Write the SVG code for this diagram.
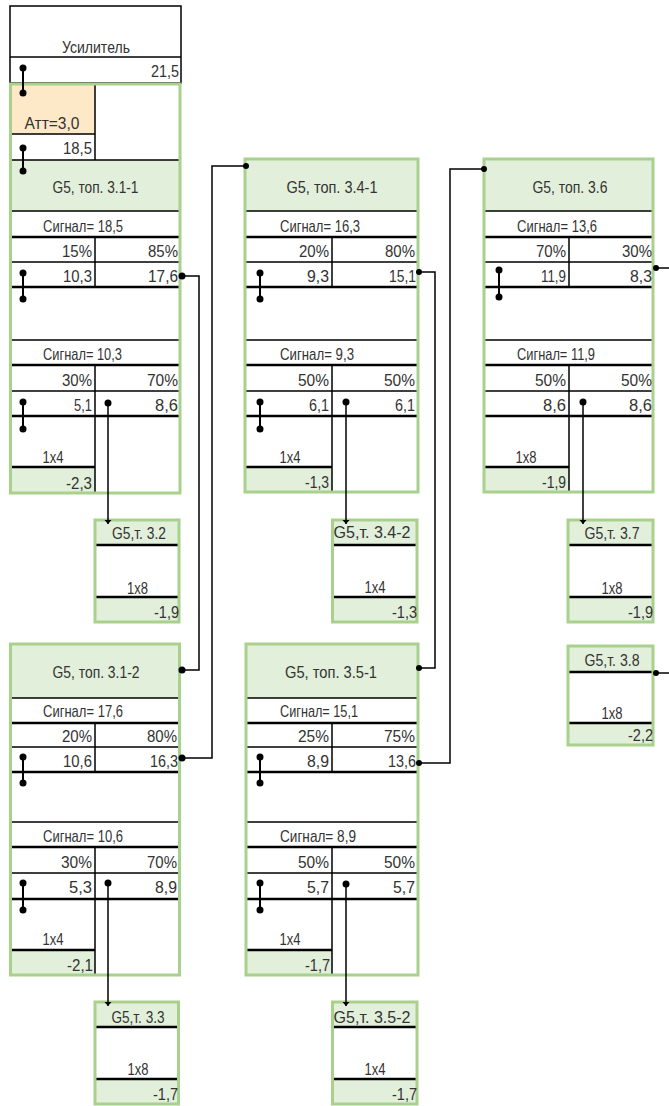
<svg xmlns="http://www.w3.org/2000/svg" width="669" height="1106" viewBox="0 0 669 1106">
<style>
.t{font-family:"Liberation Sans Narrow","Liberation Sans",Arial,sans-serif;font-size:17px;fill:#333}
.m{text-anchor:middle}.r{text-anchor:end}
.ln{stroke:#000;stroke-width:1.5;fill:none}
.lt{stroke:#000;stroke-width:2.5;fill:none}
.gb{fill:none;stroke:#a9d18e;stroke-width:3}
.wb{fill:#fff}
.hf{fill:#e2efda}
.of{fill:#fde9c8}
.cn{fill:none;stroke:#000;stroke-width:1.5}
.lk{fill:none;stroke:#000;stroke-width:2}
.dt{fill:#000}
</style>
<defs>
<marker id="ah" viewBox="0 -4 5 8" markerWidth="5" markerHeight="8" refX="4" refY="0" orient="auto" markerUnits="userSpaceOnUse"><path d="M0,-3.5 L4,0 L0,3.5 z" fill="#000"/></marker>
</defs>
<rect width="669" height="1106" fill="#fff"/>

<!-- Amplifier -->
<g id="amp">
<rect x="10" y="6" width="171" height="77" fill="#fff" stroke="#000" stroke-width="1.5"/>
<path class="ln" d="M10 57H181"/>
<text class="t m" x="96" y="53" textLength="68" lengthAdjust="spacingAndGlyphs">Усилитель</text>
<text class="t r" x="179" y="77" textLength="28" lengthAdjust="spacingAndGlyphs">21,5</text>
</g>

<!-- Block 3.1-1 -->
<g id="b311">
<rect class="wb" x="10.5" y="84" width="169.5" height="409"/>
<rect class="of" x="12" y="85" width="83" height="49"/>
<rect class="hf" x="12" y="160" width="167" height="51"/>
<rect class="hf" x="12" y="467" width="83" height="25"/>
<path class="ln" d="M12 134H95M95 85V160M12 160H179M12 211H179M12 262H179M95 237V287M12 340H179M12 391H179M95 365V492"/>
<path class="lt" d="M12 237H179M12 287H179M12 365H179M12 416H179M12 467H95"/>
<rect class="gb" x="10.5" y="84" width="169.5" height="409"/>
<text class="t m" x="52" y="129" textLength="55" lengthAdjust="spacingAndGlyphs">Атт=3,0</text>
<text class="t r" x="92" y="154" textLength="29" lengthAdjust="spacingAndGlyphs">18,5</text>
<text class="t m" x="95.5" y="193" textLength="86" lengthAdjust="spacingAndGlyphs">G5, топ. 3.1-1</text>
<text class="t" x="43" y="232" textLength="80" lengthAdjust="spacingAndGlyphs">Сигнал= 18,5</text>
<text class="t r" x="92" y="257" textLength="30" lengthAdjust="spacingAndGlyphs">15%</text>
<text class="t r" x="178" y="257" textLength="30" lengthAdjust="spacingAndGlyphs">85%</text>
<text class="t r" x="92" y="282" textLength="29" lengthAdjust="spacingAndGlyphs">10,3</text>
<text class="t r" x="178" y="282" textLength="30" lengthAdjust="spacingAndGlyphs">17,6</text>
<text class="t" x="43" y="360" textLength="79" lengthAdjust="spacingAndGlyphs">Сигнал= 10,3</text>
<text class="t r" x="92" y="386" textLength="30" lengthAdjust="spacingAndGlyphs">30%</text>
<text class="t r" x="178" y="386" textLength="31" lengthAdjust="spacingAndGlyphs">70%</text>
<text class="t r" x="92" y="411" textLength="18" lengthAdjust="spacingAndGlyphs">5,1</text>
<text class="t r" x="178" y="411" textLength="23" lengthAdjust="spacingAndGlyphs">8,6</text>
<text class="t m" x="53" y="463" textLength="21" lengthAdjust="spacingAndGlyphs">1x4</text>
<text class="t r" x="92" y="489" textLength="26" lengthAdjust="spacingAndGlyphs">-2,3</text>
</g>

<!-- Block 3.4-1 -->
<g id="b341">
<rect class="wb" x="245" y="159" width="173" height="333"/>
<rect class="hf" x="246" y="160" width="171" height="51"/>
<rect class="hf" x="246" y="467" width="86" height="24"/>
<path class="ln" d="M246 211H417M246 262H417M332 237V287M246 340H417M246 391H417M332 365V491"/>
<path class="lt" d="M246 237H417M246 287H417M246 365H417M246 416H417M246 467H332"/>
<rect class="gb" x="245" y="159" width="173" height="333"/>
<text class="t m" x="332" y="193" textLength="91" lengthAdjust="spacingAndGlyphs">G5, топ. 3.4-1</text>
<text class="t" x="280" y="232" textLength="80" lengthAdjust="spacingAndGlyphs">Сигнал= 16,3</text>
<text class="t r" x="329" y="257" textLength="30" lengthAdjust="spacingAndGlyphs">20%</text>
<text class="t r" x="415" y="257" textLength="30" lengthAdjust="spacingAndGlyphs">80%</text>
<text class="t r" x="329" y="282" textLength="22" lengthAdjust="spacingAndGlyphs">9,3</text>
<text class="t r" x="416" y="282" textLength="27" lengthAdjust="spacingAndGlyphs">15,1</text>
<text class="t" x="280" y="360" textLength="74" lengthAdjust="spacingAndGlyphs">Сигнал= 9,3</text>
<text class="t r" x="329" y="386" textLength="31" lengthAdjust="spacingAndGlyphs">50%</text>
<text class="t r" x="415" y="386" textLength="31" lengthAdjust="spacingAndGlyphs">50%</text>
<text class="t r" x="329" y="411" textLength="20" lengthAdjust="spacingAndGlyphs">6,1</text>
<text class="t r" x="415" y="411" textLength="20" lengthAdjust="spacingAndGlyphs">6,1</text>
<text class="t m" x="290" y="463" textLength="21" lengthAdjust="spacingAndGlyphs">1x4</text>
<text class="t r" x="329" y="488" textLength="24" lengthAdjust="spacingAndGlyphs">-1,3</text>
</g>

<!-- Block 3.6 -->
<g id="b36">
<rect class="wb" x="484" y="159" width="169" height="333"/>
<rect class="hf" x="485" y="160" width="167" height="51"/>
<rect class="hf" x="485" y="467" width="84" height="24"/>
<path class="ln" d="M485 211H652M485 262H652M569 237V287M485 340H652M485 391H652M569 365V491"/>
<path class="lt" d="M485 237H652M485 287H652M485 365H652M485 416H652M485 467H569"/>
<rect class="gb" x="484" y="159" width="169" height="333"/>
<text class="t m" x="570" y="193" textLength="75" lengthAdjust="spacingAndGlyphs">G5, топ. 3.6</text>
<text class="t" x="517" y="232" textLength="80" lengthAdjust="spacingAndGlyphs">Сигнал= 13,6</text>
<text class="t r" x="566" y="257" textLength="30" lengthAdjust="spacingAndGlyphs">70%</text>
<text class="t r" x="652" y="257" textLength="30" lengthAdjust="spacingAndGlyphs">30%</text>
<text class="t r" x="566" y="282" textLength="25" lengthAdjust="spacingAndGlyphs">11,9</text>
<text class="t r" x="652" y="282" textLength="22" lengthAdjust="spacingAndGlyphs">8,3</text>
<text class="t" x="517" y="360" textLength="78" lengthAdjust="spacingAndGlyphs">Сигнал= 11,9</text>
<text class="t r" x="566" y="386" textLength="31" lengthAdjust="spacingAndGlyphs">50%</text>
<text class="t r" x="652" y="386" textLength="31" lengthAdjust="spacingAndGlyphs">50%</text>
<text class="t r" x="566" y="411" textLength="23" lengthAdjust="spacingAndGlyphs">8,6</text>
<text class="t r" x="652" y="411" textLength="23" lengthAdjust="spacingAndGlyphs">8,6</text>
<text class="t m" x="526" y="463" textLength="21" lengthAdjust="spacingAndGlyphs">1x8</text>
<text class="t r" x="566" y="488" textLength="24" lengthAdjust="spacingAndGlyphs">-1,9</text>
</g>

<!-- Block 3.1-2 -->
<g id="b312">
<rect class="wb" x="10.5" y="644" width="169" height="331"/>
<rect class="hf" x="12" y="645" width="166" height="53"/>
<rect class="hf" x="12" y="950" width="83" height="24"/>
<path class="ln" d="M12 698H178M12 747H178M95 723V772M12 822H178M12 873H178M95 847V974"/>
<path class="lt" d="M12 723H178M12 772H178M12 847H178M12 899H178M12 950H95"/>
<rect class="gb" x="10.5" y="644" width="169" height="331"/>
<text class="t m" x="96" y="678" textLength="87" lengthAdjust="spacingAndGlyphs">G5, топ. 3.1-2</text>
<text class="t" x="43" y="717" textLength="80" lengthAdjust="spacingAndGlyphs">Сигнал= 17,6</text>
<text class="t r" x="92" y="742" textLength="30" lengthAdjust="spacingAndGlyphs">20%</text>
<text class="t r" x="177" y="742" textLength="30" lengthAdjust="spacingAndGlyphs">80%</text>
<text class="t r" x="92" y="767" textLength="29" lengthAdjust="spacingAndGlyphs">10,6</text>
<text class="t r" x="178" y="767" textLength="28" lengthAdjust="spacingAndGlyphs">16,3</text>
<text class="t" x="43" y="842" textLength="80" lengthAdjust="spacingAndGlyphs">Сигнал= 10,6</text>
<text class="t r" x="92" y="868" textLength="31" lengthAdjust="spacingAndGlyphs">30%</text>
<text class="t r" x="177" y="868" textLength="30" lengthAdjust="spacingAndGlyphs">70%</text>
<text class="t r" x="92" y="893" textLength="23" lengthAdjust="spacingAndGlyphs">5,3</text>
<text class="t r" x="177" y="893" textLength="22" lengthAdjust="spacingAndGlyphs">8,9</text>
<text class="t m" x="53" y="945" textLength="21" lengthAdjust="spacingAndGlyphs">1x4</text>
<text class="t r" x="93" y="971" textLength="26" lengthAdjust="spacingAndGlyphs">-2,1</text>
</g>

<!-- Block 3.5-1 -->
<g id="b351">
<rect class="wb" x="246" y="644" width="172" height="331"/>
<rect class="hf" x="247" y="645" width="170" height="53"/>
<rect class="hf" x="247" y="950" width="85" height="24"/>
<path class="ln" d="M247 698H417M247 747H417M332 723V772M247 822H417M247 873H417M332 847V974"/>
<path class="lt" d="M247 723H417M247 772H417M247 847H417M247 899H417M247 950H332"/>
<rect class="gb" x="246" y="644" width="172" height="331"/>
<text class="t m" x="331" y="678" textLength="92" lengthAdjust="spacingAndGlyphs">G5, топ. 3.5-1</text>
<text class="t" x="280" y="717" textLength="78" lengthAdjust="spacingAndGlyphs">Сигнал= 15,1</text>
<text class="t r" x="329" y="742" textLength="31" lengthAdjust="spacingAndGlyphs">25%</text>
<text class="t r" x="415" y="742" textLength="31" lengthAdjust="spacingAndGlyphs">75%</text>
<text class="t r" x="329" y="767" textLength="22" lengthAdjust="spacingAndGlyphs">8,9</text>
<text class="t r" x="416" y="767" textLength="28" lengthAdjust="spacingAndGlyphs">13,6</text>
<text class="t" x="280" y="842" textLength="76" lengthAdjust="spacingAndGlyphs">Сигнал= 8,9</text>
<text class="t r" x="329" y="868" textLength="31" lengthAdjust="spacingAndGlyphs">50%</text>
<text class="t r" x="415" y="868" textLength="31" lengthAdjust="spacingAndGlyphs">50%</text>
<text class="t r" x="329" y="893" textLength="22" lengthAdjust="spacingAndGlyphs">5,7</text>
<text class="t r" x="415" y="893" textLength="22" lengthAdjust="spacingAndGlyphs">5,7</text>
<text class="t m" x="290" y="945" textLength="21" lengthAdjust="spacingAndGlyphs">1x4</text>
<text class="t r" x="330" y="971" textLength="25" lengthAdjust="spacingAndGlyphs">-1,7</text>
</g>

<!-- Small boxes -->
<g id="s32">
<rect class="wb" x="95" y="520" width="84" height="102"/>
<rect class="hf" x="96" y="521" width="82" height="24"/>
<rect class="hf" x="96" y="597" width="82" height="24"/>
<path class="lt" d="M96 545H178M96 597H178"/>
<rect class="gb" x="95" y="520" width="84" height="102"/>
<text class="t m" x="139" y="539" textLength="54" lengthAdjust="spacingAndGlyphs">G5,т. 3.2</text>
<text class="t m" x="137.5" y="594" textLength="21" lengthAdjust="spacingAndGlyphs">1x8</text>
<text class="t r" x="179" y="618" textLength="25" lengthAdjust="spacingAndGlyphs">-1,9</text>
</g>
<g id="s342">
<rect class="wb" x="332.5" y="520" width="84.5" height="102"/>
<rect class="hf" x="334" y="521" width="82" height="24"/>
<rect class="hf" x="334" y="597" width="82" height="24"/>
<path class="lt" d="M334 545H416M334 597H416"/>
<rect class="gb" x="332.5" y="520" width="84.5" height="102"/>
<text class="t m" x="372" y="538" textLength="77" lengthAdjust="spacingAndGlyphs">G5,т. 3.4-2</text>
<text class="t m" x="375" y="593" textLength="21" lengthAdjust="spacingAndGlyphs">1x4</text>
<text class="t r" x="417" y="618" textLength="25" lengthAdjust="spacingAndGlyphs">-1,3</text>
</g>
<g id="s37">
<rect class="wb" x="568" y="520" width="85" height="102"/>
<rect class="hf" x="569" y="521" width="83" height="24"/>
<rect class="hf" x="569" y="597" width="83" height="24"/>
<path class="lt" d="M569 545H652M569 597H652"/>
<rect class="gb" x="568" y="520" width="85" height="102"/>
<text class="t m" x="612" y="539" textLength="55" lengthAdjust="spacingAndGlyphs">G5,т. 3.7</text>
<text class="t m" x="612" y="594" textLength="21" lengthAdjust="spacingAndGlyphs">1x8</text>
<text class="t r" x="653" y="618" textLength="25" lengthAdjust="spacingAndGlyphs">-1,9</text>
</g>
<g id="s38">
<rect class="wb" x="568" y="646" width="85" height="99"/>
<rect class="hf" x="569" y="647" width="83" height="25"/>
<rect class="hf" x="569" y="723" width="83" height="21"/>
<path class="lt" d="M569 672H652M569 723H652"/>
<rect class="gb" x="568" y="646" width="85" height="99"/>
<text class="t m" x="612" y="666" textLength="55" lengthAdjust="spacingAndGlyphs">G5,т. 3.8</text>
<text class="t m" x="612" y="719" textLength="21" lengthAdjust="spacingAndGlyphs">1x8</text>
<text class="t r" x="653" y="741" textLength="25" lengthAdjust="spacingAndGlyphs">-2,2</text>
</g>
<g id="s33">
<rect class="wb" x="95" y="1002" width="83.5" height="102"/>
<rect class="hf" x="96" y="1003" width="81" height="24"/>
<rect class="hf" x="96" y="1079" width="81" height="24"/>
<path class="lt" d="M96 1027H177M96 1079H177"/>
<rect class="gb" x="95" y="1002" width="83.5" height="102"/>
<text class="t m" x="138" y="1023" textLength="53" lengthAdjust="spacingAndGlyphs">G5,т. 3.3</text>
<text class="t m" x="138" y="1075" textLength="21" lengthAdjust="spacingAndGlyphs">1x8</text>
<text class="t r" x="178" y="1100" textLength="25" lengthAdjust="spacingAndGlyphs">-1,7</text>
</g>
<g id="s352">
<rect class="wb" x="332.5" y="1002" width="84.5" height="102"/>
<rect class="hf" x="334" y="1003" width="82" height="24"/>
<rect class="hf" x="334" y="1079" width="82" height="24"/>
<path class="lt" d="M334 1027H416M334 1079H416"/>
<rect class="gb" x="332.5" y="1002" width="84.5" height="102"/>
<text class="t m" x="372" y="1023" textLength="77" lengthAdjust="spacingAndGlyphs">G5,т. 3.5-2</text>
<text class="t m" x="375" y="1075" textLength="21" lengthAdjust="spacingAndGlyphs">1x4</text>
<text class="t r" x="417" y="1100" textLength="25" lengthAdjust="spacingAndGlyphs">-1,7</text>
</g>

<!-- Connectors -->
<g id="connectors">
<path class="lk" d="M23 68V93M23 148V171M23 273V299M23 402V429M260 273V299M260 402V429M499 270V297M23 757V783M23 883V910M260 757V783M260 883V910"/>
<path class="cn" d="M182 276H199V670H182"/>
<path class="cn" d="M182 758H212V166H246"/>
<path class="cn" d="M419 272H435V668H419"/>
<path class="cn" d="M419 763H450V169H484"/>
<path class="cn" d="M656 268H669"/>
<path class="cn" d="M656 673H669"/>
<path class="cn" d="M108 403V524" marker-end="url(#ah)"/>
<path class="cn" d="M346 402V524" marker-end="url(#ah)"/>
<path class="cn" d="M583 402V524" marker-end="url(#ah)"/>
<path class="cn" d="M108 883V1006" marker-end="url(#ah)"/>
<path class="cn" d="M346 884V1006" marker-end="url(#ah)"/>
<g class="dt">
<circle cx="23" cy="68" r="3.5"/><circle cx="23" cy="93" r="3.5"/>
<circle cx="23" cy="148" r="3.5"/><circle cx="23" cy="171" r="3.5"/>
<circle cx="23" cy="273" r="3.5"/><circle cx="23" cy="299" r="3.5"/>
<circle cx="23" cy="402" r="3.5"/><circle cx="23" cy="429" r="3.5"/>
<circle cx="108" cy="403" r="3.5"/>
<circle cx="260" cy="273" r="3.5"/><circle cx="260" cy="299" r="3.5"/>
<circle cx="260" cy="402" r="3.5"/><circle cx="260" cy="429" r="3.5"/>
<circle cx="346" cy="402" r="3.5"/>
<circle cx="499" cy="270" r="3.5"/><circle cx="499" cy="297" r="3.5"/>
<circle cx="583" cy="402" r="3.5"/>
<circle cx="23" cy="757" r="3.5"/><circle cx="23" cy="783" r="3.5"/>
<circle cx="23" cy="883" r="3.5"/><circle cx="23" cy="910" r="3.5"/>
<circle cx="108" cy="883" r="3.5"/>
<circle cx="260" cy="757" r="3.5"/><circle cx="260" cy="783" r="3.5"/>
<circle cx="260" cy="883" r="3.5"/><circle cx="260" cy="910" r="3.5"/>
<circle cx="346" cy="884" r="3.5"/>
<circle cx="182" cy="276" r="3.5"/><circle cx="182" cy="670" r="3.5"/>
<circle cx="182" cy="758" r="3.5"/><circle cx="246" cy="166" r="3"/>
<circle cx="419" cy="272" r="3"/><circle cx="419" cy="668" r="3"/>
<circle cx="419" cy="763" r="3"/><circle cx="484" cy="169" r="3"/>
<circle cx="656" cy="268" r="3"/><circle cx="656" cy="673" r="3"/>
</g>
</g>
</svg>
